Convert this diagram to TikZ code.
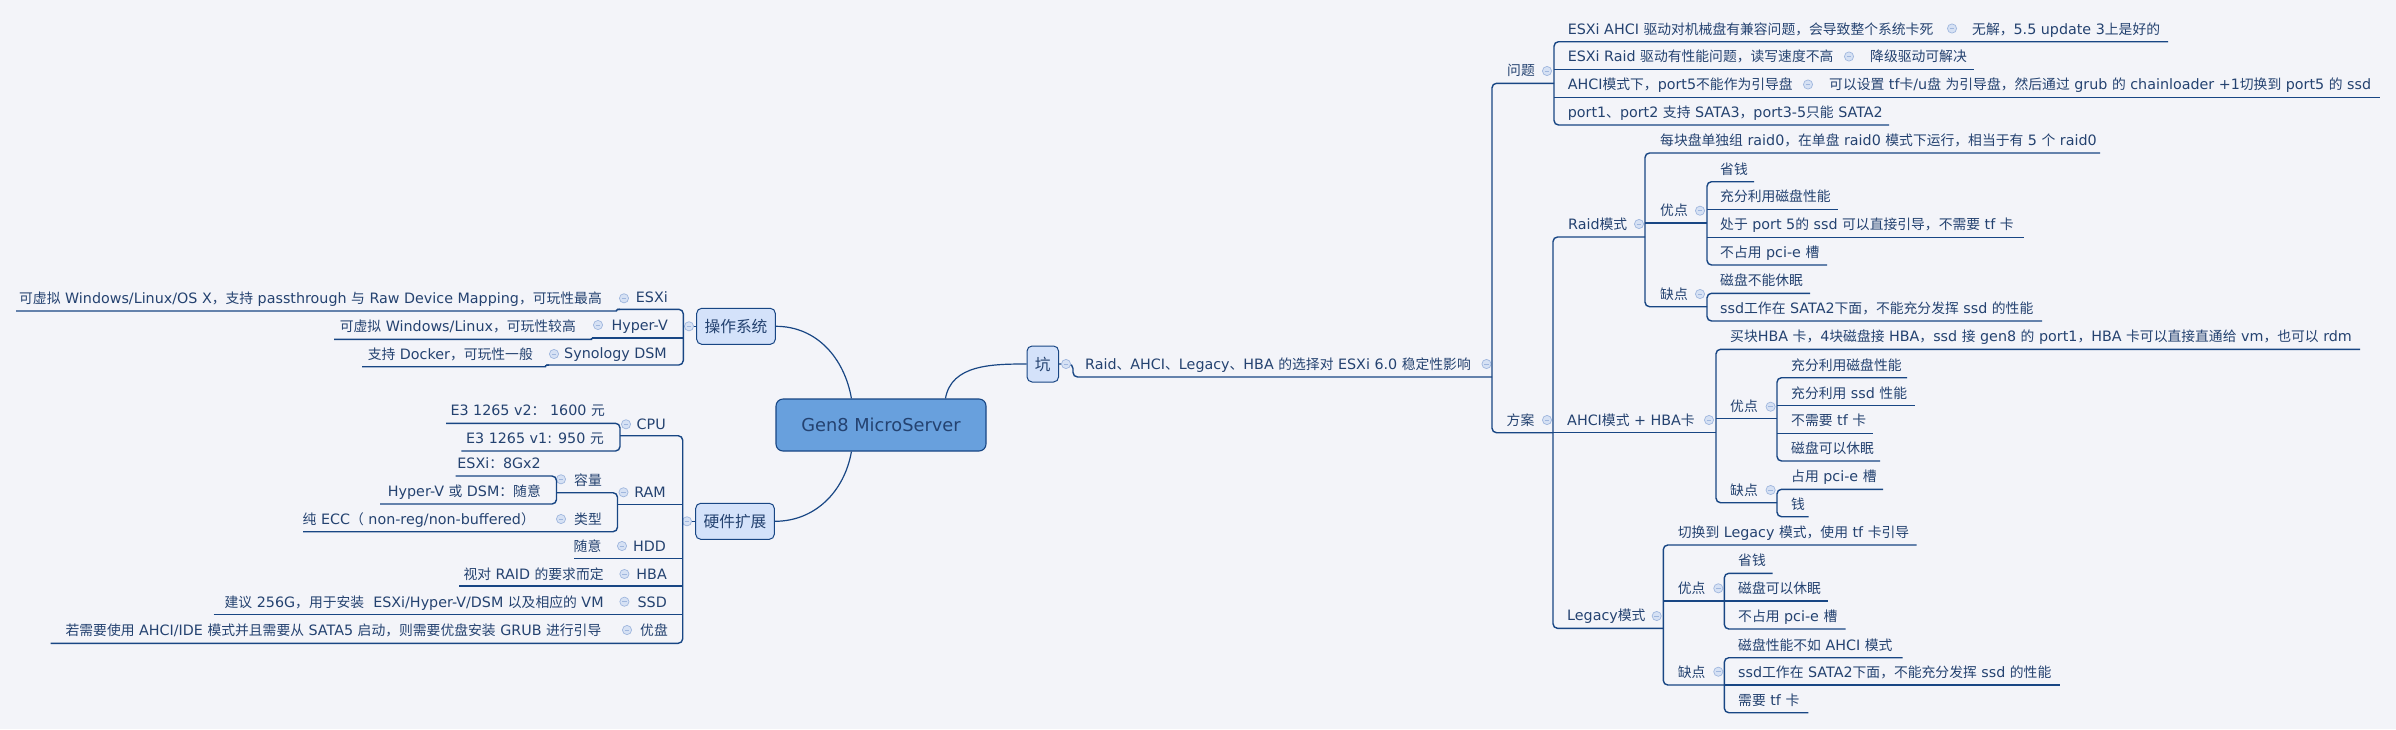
\documentclass[tikz,border=0pt]{standalone}
\usepackage{fontspec}
\setmainfont{DejaVu Sans}
\newfontfamily\cjkfont[Scale=0.965]{Noto Sans CJK SC}
\newfontfamily\latfont{DejaVu Sans}
\XeTeXinterchartokenstate=1
\newXeTeXintercharclass\CJKcls
\newcount\cjkcnt
\def\setcjkrange#1#2{\cjkcnt=#1 \loop\XeTeXcharclass\cjkcnt=\CJKcls\relax\advance\cjkcnt by 1 \ifnum\cjkcnt<#2 \repeat}
\setcjkrange{"3000}{"3040}
\setcjkrange{"4E00}{"A000}
\setcjkrange{"FF00}{"FFF0}
\XeTeXinterchartoks 0 \CJKcls = {\cjkfont}
\XeTeXinterchartoks 4095 \CJKcls = {\cjkfont}
\XeTeXinterchartoks \CJKcls 0 = {\latfont}
\XeTeXinterchartoks \CJKcls 4095 = {\latfont}
\definecolor{bgc}{RGB}{243,244,249}
\definecolor{tcol}{RGB}{36,66,112}
\definecolor{lcol}{RGB}{24,70,132}
\definecolor{lonefill}{RGB}{212,226,250}
\definecolor{genfill}{RGB}{104,160,221}
\definecolor{cfill}{RGB}{214,225,244}
\definecolor{cdraw}{RGB}{160,183,222}
\tikzset{
  txt/.style={inner sep=0pt, text=tcol, font=\fontsize{14.3}{17}\selectfont},
  tr/.style={txt, anchor=base west},
  tl/.style={txt, anchor=base east},
  lvone/.style={draw=lcol, fill=lonefill, rounded corners=5pt, line width=1pt, minimum height=36pt, inner sep=0pt, text=tcol, font=\fontsize{16.3}{19}\selectfont},
  ul/.style={draw=lcol, line width=1.4pt, rounded corners=4.5pt},
  link/.style={draw=lcol, line width=1.2pt},
}
\newcommand\cmin[2]{\fill[cfill, draw=cdraw, line width=0.7pt] (#1,#2) circle[radius=4.6pt]; \draw[cdraw, line width=0.9pt] ({#1-2.4},#2) -- ({#1+2.4},#2);}
\begin{document}
\begin{tikzpicture}[x=1pt,y=-1pt]
\fill[bgc] (0,0) rectangle (2396,729);
\useasboundingbox (0,0) rectangle (2396,729);

% ---------- centre ----------
\node[draw=lcol, fill=genfill, rounded corners=7pt, line width=1.1pt, minimum width=210pt, minimum height=52pt, inner sep=0pt, font=\fontsize{17.8}{20}\selectfont, text=tcol] (gen) at (881,425) {Gen8 MicroServer};
\node[lvone, minimum width=78.6pt] (os) at (736,326.3) {操作系统};
\node[lvone, minimum width=78.6pt] (hw) at (735,521.3) {硬件扩展};
\node[lvone, minimum width=31.5pt] (keng) at (1042.8,364) {坑};
\draw[link] (os.east) to[out=0,in=100] ([xshift=76pt]gen.north west);
\draw[link] (hw.east) to[out=0,in=-100] ([xshift=76pt]gen.south west);
\draw[link] (keng.west) to[out=180,in=80] ([xshift=170pt]gen.north west);

% ---------- right: 坑 ----------
\draw[ul] (keng.east) -- (1073,364) -- (1073,377) -- (1492,377);
\cmin{1066}{364}
\node[tr] (mainrow) at (1085,369.5) {Raid、AHCI、Legacy、HBA 的选择对 ESXi 6.0 稳定性影响};
\cmin{1486.5}{364}
\draw[ul] (1554,83.3) -- (1492,83.3) -- (1492,432.7) -- (1553,432.7);

% 问题
\node[tr] (wt) at (1507,75.8) {问题}; \cmin{1547}{71}
\draw[ul] (2168,41.7) -- (1554,41.7) -- (1554,125) -- (1889,125);
\draw[ul] (1554,69.3) -- (1973.6,69.3);
\draw[ul] (1554,97.3) -- (2379.5,97.3);
\node[tr] (q1) at (1567.6,34.2) {ESXi AHCI 驱动对机械盘有兼容问题，会导致整个系统卡死};
\cmin{1952}{28.5}
\node[tr] (q1a) at (1972,34.2) {无解，5.5 update 3上是好的};
\node[tr] (q2) at (1567.6,61.8) {ESXi Raid 驱动有性能问题，读写速度不高};
\cmin{1849}{56.5}
\node[tr] (q2a) at (1870,61.8) {降级驱动可解决};
\node[tr] (q3) at (1567.6,89.8) {AHCI模式下，port5不能作为引导盘};
\cmin{1808}{84.5}
\node[tr] (q3a) at (1829,89.8) {可以设置 tf卡/u盘 为引导盘，然后通过 grub 的 chainloader +1切换到 port5 的 ssd};
\node[tr] (q4) at (1567.6,117.5) {port1、port2 支持 SATA3，port3-5只能 SATA2};

% 方案
\node[tr] (fa) at (1506.5,425.2) {方案}; \cmin{1547}{420}
\draw[ul] (1645,237) -- (1553,237) -- (1553,628.3) -- (1663.3,628.3);
\draw[ul] (1553,432.7) -- (1716,432.7);

% Raid
\node[tr] (raid) at (1568,229.5) {Raid模式}; \cmin{1639}{224}
\draw[ul] (2100,153) -- (1645,153) -- (1645,306.7) -- (1707,306.7);
\draw[ul] (1645,223) -- (1707,223);
\node[tr] (r0) at (1660,145.5) {每块盘单独组 raid0，在单盘 raid0 模式下运行，相当于有 5 个 raid0};
\node[tr] (ryd) at (1660,215.5) {优点}; \cmin{1700}{210.7}
\draw[ul] (1754,181.7) -- (1707,181.7) -- (1707,265) -- (1827,265);
\draw[ul] (1707,209.3) -- (1838,209.3);
\draw[ul] (1707,237.3) -- (2023.7,237.3);
\node[tr] (r1) at (1720,174.2) {省钱};
\node[tr] (r2) at (1720,201.8) {充分利用磁盘性能};
\node[tr] (r3) at (1720,229.8) {处于 port 5的 ssd 可以直接引导，不需要 tf 卡};
\node[tr] (r4) at (1720,257.5) {不占用 pci-e 槽};
\node[tr] (rqd) at (1660,299.2) {缺点}; \cmin{1700}{294}
\draw[ul] (1810,293.3) -- (1707,293.3) -- (1707,321) -- (2042,321);
\node[tr] (r5) at (1720,285.8) {磁盘不能休眠};
\node[tr] (r6) at (1720,313.5) {ssd工作在 SATA2下面，不能充分发挥 ssd 的性能};

% AHCI
\node[tr] (ahci) at (1567,425.2) {AHCI模式 + HBA卡}; \cmin{1709}{420}
\draw[ul] (2360,349.3) -- (1716,349.3) -- (1716,502.7) -- (1777,502.7);
\draw[ul] (1716,418.7) -- (1777,418.7);
\node[tr] (a0) at (1730,341.8) {买块HBA 卡，4块磁盘接 HBA，ssd 接 gen8 的 port1，HBA 卡可以直接直通给 vm，也可以 rdm};
\node[tr] (ayd) at (1730,411.2) {优点}; \cmin{1770.6}{406.7}
\draw[ul] (1907,377.7) -- (1777,377.7) -- (1777,461) -- (1880,461);
\draw[ul] (1777,405.7) -- (1914.7,405.7);
\draw[ul] (1777,433.3) -- (1873,433.3);
\node[tr] (a1) at (1791,370.2) {充分利用磁盘性能};
\node[tr] (a2) at (1791,398.2) {充分利用 ssd 性能};
\node[tr] (a3) at (1791,425.8) {不需要 tf 卡};
\node[tr] (a4) at (1791,453.5) {磁盘可以休眠};
\node[tr] (aqd) at (1730,495.2) {缺点}; \cmin{1770.6}{490}
\draw[ul] (1883,489.3) -- (1777,489.3) -- (1777,516.7) -- (1808.6,516.7);
\node[tr] (a5) at (1791,481.8) {占用 pci-e 槽};
\node[tr] (a6) at (1791,509.2) {钱};

% Legacy
\node[tr] (leg) at (1567,620.8) {Legacy模式}; \cmin{1656.7}{616}
\draw[ul] (1916.7,545) -- (1663.3,545) -- (1663.3,685) -- (1724.3,685);
\draw[ul] (1663.3,601) -- (1724.3,601);
\node[tr] (lz) at (1677.7,537.5) {切换到 Legacy 模式，使用 tf 卡引导};
\node[tr] (lyd) at (1677.7,593.5) {优点}; \cmin{1718.3}{588.3}
\draw[ul] (1772.7,573.3) -- (1724.3,573.3) -- (1724.3,629) -- (1845.7,629);
\draw[ul] (1724.3,601) -- (1828.3,601);
\node[tr] (la) at (1738,565.8) {省钱};
\node[tr] (lb) at (1738,593.5) {磁盘可以休眠};
\node[tr] (lc) at (1738,621.5) {不占用 pci-e 槽};
\node[tr] (lqd) at (1677.7,677.5) {缺点}; \cmin{1718.3}{671.7}
\draw[ul] (1902.7,657.7) -- (1724.3,657.7) -- (1724.3,712.7) -- (1808.3,712.7);
\draw[ul] (1724.3,685) -- (2060,685);
\node[tr] (ld) at (1738,650.2) {磁盘性能不如 AHCI 模式};
\node[tr] (le) at (1738,677.5) {ssd工作在 SATA2下面，不能充分发挥 ssd 的性能};
\node[tr] (lf) at (1738,705.2) {需要 tf 卡};

% ---------- left: 操作系统 ----------
\draw[ul] (os.west) -- (683.3,326.3);
\cmin{689}{326.3}
\draw[ul] (617,309.3) -- (683.3,309.3) -- (683.3,365) -- (546,365);
\draw[ul] (592,338) -- (683.3,338);
\node[tl] (esxi) at (668,302) {ESXi}; \cmin{624}{298.3}
\node[tl] (esxid) at (602,303.5) {可虚拟 Windows/Linux/OS X，支持 passthrough 与 Raw Device Mapping，可玩性最高};
\draw[ul] (16,311) -- (612,311) to[out=0,in=180] (620,309.3);
\node[tl] (hv) at (668,330.8) {Hyper-V}; \cmin{598}{325}
\node[tl] (hvd) at (576,331.8) {可虚拟 Windows/Linux，可玩性较高};
\draw[ul] (334,339.3) -- (587,339.3) to[out=0,in=180] (595,338);
\node[tl] (dsm) at (667,358) {Synology DSM}; \cmin{554}{354}
\node[tl] (dsmd) at (533,359.2) {支持 Docker，可玩性一般};
\draw[ul] (362,366.7) -- (541,366.7) to[out=0,in=180] (549,365);

% ---------- left: 硬件扩展 ----------
\draw[ul] (hw.west) -- (682.7,521.3);
\cmin{687}{521.3}
\draw[ul] (620,435.7) -- (682.7,435.7) -- (682.7,643.3) -- (50.5,643.3);
\draw[ul] (617.5,504.3) -- (682.7,504.3);
\draw[ul] (574,558.3) -- (682.7,558.3);
\draw[ul] (459,586) -- (682.7,586);
\draw[ul] (213.5,614.3) -- (682.7,614.3);

\node[tl] (cpu) at (666,429.5) {CPU}; \cmin{626}{424.3}
\draw[ul] (446,423.3) -- (620,423.3) -- (620,451) -- (461.4,451);
\node[tl] (cpub) at (605,415.5) {E3 1265 v2： 1600 元};
\node[tl] (cpua) at (604,443.2) {E3 1265 v1: 950 元};

\node[tl] (ram) at (666,497.5) {RAM}; \cmin{623.5}{492.3}
\draw[ul] (556.5,492.7) -- (617.5,492.7) -- (617.5,531.7) -- (303,531.7);
\node[tl] (rl) at (602,485) {容量}; \cmin{561}{479.3}
\draw[ul] (455.5,476) -- (556.5,476) -- (556.5,504) -- (380,504);
\node[tl] (rla) at (541,468.3) {ESXi：8Gx2};
\node[tl] (rlb) at (541,496.3) {Hyper-V 或 DSM：随意};
\node[tl] (lx) at (602,524.2) {类型}; \cmin{561}{519}
\node[tl] (lxa) at (535,524.2) {纯 ECC（ non-reg/non-buffered）};

\node[tl] (hdd) at (666,551) {HDD}; \cmin{622}{546}
\node[tl] (hdda) at (601.5,551) {随意};
\node[tl] (hba) at (667,579) {HBA}; \cmin{624.4}{574}
\node[tl] (hbaa) at (603.8,579) {视对 RAID 的要求而定};
\node[tl] (ssd) at (667,607) {SSD}; \cmin{624.4}{601.7}
\node[tl] (ssda) at (603.8,607) {建议 256G，用于安装 \ ESXi/Hyper-V/DSM 以及相应的 VM};
\node[tl] (ud) at (668,635.5) {优盘}; \cmin{627}{630}
\node[tl] (uda) at (601.5,635.5) {若需要使用 AHCI/IDE 模式并且需要从 SATA5 启动，则需要优盘安装 GRUB 进行引导};
\end{tikzpicture}
\end{document}
